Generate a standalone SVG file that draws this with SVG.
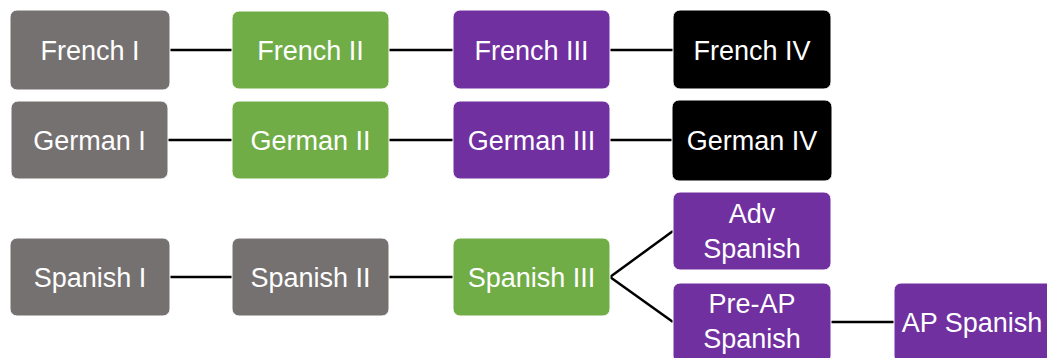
<svg xmlns="http://www.w3.org/2000/svg" width="1047" height="358" viewBox="0 0 1047 358">
<style>
.b{stroke:#fff;stroke-width:1}
.g{fill:#767171}.gr{fill:#70AD47}.p{fill:#7030A0}.k{fill:#000}
text{fill:#fff;font-family:"Liberation Sans",Arial,sans-serif;font-size:27px;text-anchor:middle}
.c line{stroke:#000;stroke-width:2.5}
</style>
<rect width="1047" height="358" fill="#fff"/>
<g class="c" id="connectors">
<line x1="170" y1="50" x2="232" y2="50"/>
<line x1="389" y1="50" x2="453" y2="50"/>
<line x1="610" y1="50" x2="673" y2="50"/>
<line x1="168" y1="140" x2="232" y2="140"/>
<line x1="389" y1="140" x2="453" y2="140"/>
<line x1="610" y1="140" x2="672" y2="140"/>
<line x1="170" y1="277" x2="232" y2="277"/>
<line x1="389" y1="277" x2="453" y2="277"/>
<line x1="610" y1="277" x2="673" y2="231"/>
<line x1="610" y1="277" x2="673" y2="322"/>
<line x1="831" y1="322" x2="894" y2="322"/>
</g>
<g id="french1"><rect class="b g" x="10" y="10" width="160" height="80" rx="7"/><text x="90" y="60">French I</text></g>
<g id="french2"><rect class="b gr" x="232" y="11" width="157" height="78" rx="7"/><text x="310.5" y="60">French II</text></g>
<g id="french3"><rect class="b p" x="453" y="10" width="157" height="79" rx="7"/><text x="531.5" y="60">French III</text></g>
<g id="french4"><rect class="b k" x="673" y="10" width="158" height="79" rx="7"/><text x="752" y="60">French IV</text></g>
<g id="german1"><rect class="b g" x="11" y="101" width="157" height="78" rx="7"/><text x="89.5" y="150">German I</text></g>
<g id="german2"><rect class="b gr" x="232" y="101" width="157" height="78" rx="7"/><text x="310.5" y="150">German II</text></g>
<g id="german3"><rect class="b p" x="453" y="101" width="157" height="78" rx="7"/><text x="531.5" y="150">German III</text></g>
<g id="german4"><rect class="b k" x="672" y="100" width="160" height="81" rx="7"/><text x="752" y="150">German IV</text></g>
<g id="spanish1"><rect class="b g" x="10" y="238" width="160" height="78" rx="7"/><text x="90" y="287">Spanish I</text></g>
<g id="spanish2"><rect class="b g" x="232" y="238" width="157" height="78" rx="7"/><text x="310.5" y="287">Spanish II</text></g>
<g id="spanish3"><rect class="b gr" x="453" y="238" width="157" height="78" rx="7"/><text x="531.5" y="287">Spanish III</text></g>
<g id="advspanish"><rect class="b p" x="673" y="192" width="158" height="78" rx="7"/><text x="752" y="223">Adv</text><text x="752" y="258">Spanish</text></g>
<g id="preapspanish"><rect class="b p" x="673" y="283" width="158" height="80" rx="7"/><text x="752" y="313">Pre-AP</text><text x="752" y="348">Spanish</text></g>
<g id="apspanish"><rect class="b p" x="894" y="283" width="160" height="80" rx="7"/><text x="972" y="332">AP Spanish</text></g>
</svg>
